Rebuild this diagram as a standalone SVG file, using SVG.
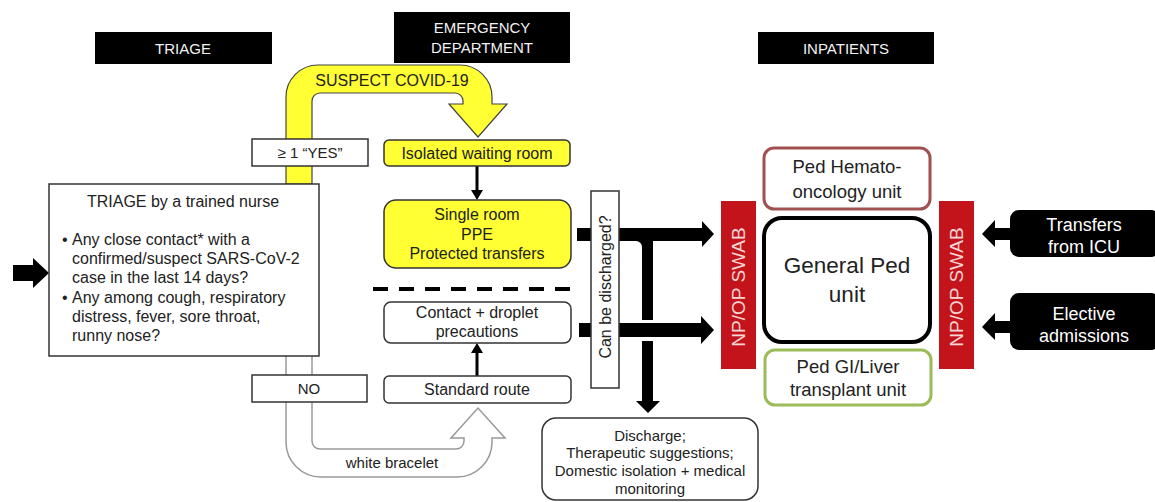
<svg xmlns="http://www.w3.org/2000/svg" width="1155" height="502" viewBox="0 0 1155 502">
<style>
text{font-family:"Liberation Sans",Arial,sans-serif;fill:#222}
.hdr{fill:#000}
.hdrt{fill:#f2f2f2;font-size:15px;text-anchor:middle}
.box{fill:#fff;stroke:#333;stroke-width:1.5}
.ybox{fill:#ffff33;stroke:#333;stroke-width:1.5}
.t15{font-size:15px;text-anchor:middle}
.t16{font-size:16px;text-anchor:middle}
.t18{font-size:18.5px;text-anchor:middle}
.swab{fill:#c3141b}
.swabt{fill:#f6d6d6;font-size:19px;text-anchor:middle}
.blk{fill:#000}
.wt{fill:#fff;font-size:18px;text-anchor:middle}
</style>
<rect width="1155" height="502" fill="#fff"/>

<g id="headers">
<rect class="hdr" x="95" y="32" width="177" height="32"/>
<text class="hdrt" x="183" y="54">TRIAGE</text>
<rect class="hdr" x="394" y="12" width="176" height="51"/>
<text class="hdrt" x="482" y="33">EMERGENCY</text>
<text class="hdrt" x="482" y="53">DEPARTMENT</text>
<rect class="hdr" x="758" y="32" width="176" height="32"/>
<text class="hdrt" x="846" y="54">INPATIENTS</text>
</g>

<g id="connectors">
<!-- yellow suspect arrow -->
<path d="M286,184 L286,97 A32,32 0 0 1 318,65 L460,65 A32,32 0 0 1 492,97 L492,104 L507,104 L478,137 L449,104 L463,104 L463,101 A8,8 0 0 0 455,93 L320,93 A8,8 0 0 0 312,101 L312,184 Z" fill="#ffff33" stroke="#444" stroke-width="1.2"/>
<text class="t16" x="392" y="86">SUSPECT COVID-19</text>
<!-- white bracelet arrow -->
<path d="M286,356 L286,442 A35,35 0 0 0 321,477 L457,477 A35,35 0 0 0 492,442 L492,438 L505,438 L478,408 L451,438 L464,438 L464,441 A8,8 0 0 1 456,449 L320,449 A8,8 0 0 1 312,441 L312,356" fill="#fff" stroke="#999" stroke-width="1.5"/>
<text class="t15" x="392" y="468">white bracelet</text>
<!-- input arrow to triage -->
<polygon class="blk" points="13,265 33,265 33,258 49,273 33,288 33,281 13,281"/>
<!-- isolated -> single room -->
<line x1="477" y1="166" x2="477" y2="191" stroke="#000" stroke-width="3"/>
<polygon class="blk" points="471,190 483,190 477,200"/>
<!-- standard -> contact -->
<line x1="477" y1="376" x2="477" y2="352" stroke="#000" stroke-width="3"/>
<polygon class="blk" points="471,353 483,353 477,343"/>
<!-- dashed separator -->
<line x1="373" y1="289" x2="570" y2="289" stroke="#000" stroke-width="4" stroke-dasharray="15,11"/>
<!-- thick arrows to inpatients -->
<polygon class="blk" points="577,228 702,228 702,221 714,234 702,247 702,241 577,241"/>
<path class="blk" d="M642,241 L642,320 L653,320 L653,241 Z"/>
<path class="blk" d="M636,241 A6,6 0 0 1 642,247 L642,241 Z"/>
<polygon class="blk" points="579,323 701,323 701,316 714,330 701,344 701,337 579,337"/>
<path class="blk" d="M642,341 L642,401 L636,401 L648,413 L660,401 L653,401 L653,341 Z"/>
<!-- arrows from right -->
<polygon class="blk" points="1012,228 995,228 995,220 982,234 995,247 995,240 1012,240"/>
<polygon class="blk" points="1012,321 995,321 995,313 982,327 995,340 995,333 1012,333"/>
</g>

<g id="yes">
<rect class="box" x="252" y="139" width="116" height="27"/>
<text class="t15" x="310" y="158">≥ 1 “YES”</text>
</g>

<g id="no">
<rect class="box" x="252" y="375" width="115" height="27"/>
<text class="t15" x="309" y="394">NO</text>
</g>

<g id="triage">
<rect class="box" x="49" y="184" width="270" height="172"/>
<text class="t16" x="183" y="207">TRIAGE  by a trained nurse</text>
<g font-size="16">
<text x="62" y="245">•</text>
<text x="72" y="245">Any close contact* with a</text>
<text x="72" y="264">confirmed/suspect SARS-CoV-2</text>
<text x="72" y="283">case in the last 14 days?</text>
<text x="62" y="303">•</text>
<text x="72" y="303">Any among  cough, respiratory</text>
<text x="72" y="322">distress, fever,  sore throat,</text>
<text x="72" y="341">runny nose?</text>
</g>
</g>

<g id="isolated">
<rect class="ybox" x="384" y="140" width="186" height="26" rx="5"/>
<text class="t16" x="477" y="159">Isolated waiting room</text>
</g>

<g id="single">
<rect class="ybox" x="384" y="200" width="187" height="68" rx="12"/>
<text class="t16" x="477" y="220">Single room</text>
<text class="t16" x="477" y="240">PPE</text>
<text class="t16" x="477" y="259">Protected transfers</text>
</g>

<g id="contact">
<rect class="box" x="384" y="302" width="187" height="41" rx="7"/>
<text class="t16" x="477" y="318">Contact + droplet</text>
<text class="t16" x="477" y="337">precautions</text>
</g>

<g id="standard">
<rect class="box" x="384" y="376" width="187" height="27" rx="5"/>
<text class="t16" x="477" y="395">Standard route</text>
</g>

<g id="discharged">
<rect class="box" x="591" y="191" width="28" height="197"/>
<text class="t16" transform="translate(611,287) rotate(-90)">Can be discharged?</text>
</g>

<g id="discharge">
<rect class="box" x="542" y="418" width="216" height="82" rx="14"/>
<text class="t15" x="650" y="441">Discharge;</text>
<text class="t15" x="650" y="458">Therapeutic suggestions;</text>
<text class="t15" x="650" y="476">Domestic isolation + medical</text>
<text class="t15" x="650" y="494">monitoring</text>
</g>

<g id="swab-left">
<rect class="swab" x="721" y="201" width="35" height="168"/>
<text class="swabt" transform="translate(745,287) rotate(-90)">NP/OP SWAB</text>
</g>

<g id="swab-right">
<rect class="swab" x="939" y="201" width="35" height="168"/>
<text class="swabt" transform="translate(963,287) rotate(-90)">NP/OP SWAB</text>
</g>

<g id="hemato">
<rect x="764" y="148" width="166" height="61" rx="10" fill="#fff" stroke="#a0504f" stroke-width="3"/>
<text class="t18" x="847" y="173">Ped Hemato-</text>
<text class="t18" x="847" y="198">oncology  unit</text>
</g>

<g id="general">
<rect x="764" y="218" width="166" height="124" rx="18" fill="#fff" stroke="#000" stroke-width="4"/>
<text x="847" y="273" font-size="22.5" text-anchor="middle">General Ped</text>
<text x="847" y="302" font-size="22.5" text-anchor="middle">unit</text>
</g>

<g id="gi">
<rect x="765" y="350" width="166" height="55" rx="10" fill="#fff" stroke="#9bbb59" stroke-width="3"/>
<text class="t18" x="848" y="373">Ped GI/Liver</text>
<text class="t18" x="848" y="396">transplant  unit</text>
</g>

<g id="icu">
<rect class="blk" x="1010" y="210" width="150" height="47" rx="9"/>
<text class="wt" x="1084" y="231">Transfers</text>
<text class="wt" x="1084" y="253">from ICU</text>
</g>

<g id="elective">
<rect class="blk" x="1010" y="293" width="150" height="57" rx="9"/>
<text class="wt" x="1084" y="320">Elective</text>
<text class="wt" x="1084" y="342">admissions</text>
</g>
</svg>
